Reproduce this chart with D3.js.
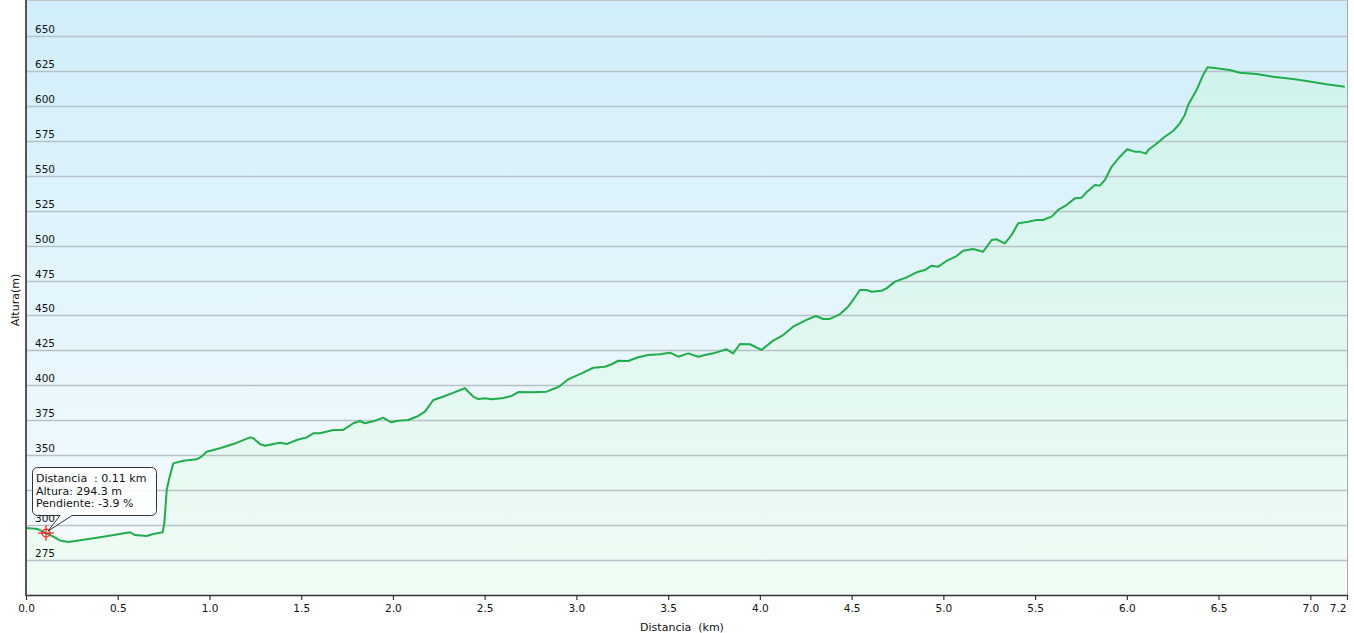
<!DOCTYPE html>
<html>
<head>
<meta charset="utf-8">
<script src="https://cdn.jsdelivr.net/npm/d3@7"></script>
<style>
  html, body { margin: 0; padding: 0; background: #ffffff; }
  svg { display: block; }
  text { font-family: "DejaVu Sans", Verdana, sans-serif; fill: #111; }
</style>
</head>
<body>
<svg id="chart" width="1354" height="633"></svg>
<script>
// Distance along the track (km)
const distancia = [
  0.000, 0.065, 0.109, 0.149, 0.185, 0.231, 0.331, 0.421, 0.567, 0.594,
  0.658, 0.694, 0.745, 0.754, 0.767, 0.781, 0.803, 0.857, 0.930, 0.957,
  0.985, 1.057, 1.130, 1.221, 1.239, 1.275, 1.302, 1.348, 1.384, 1.421,
  1.475, 1.530, 1.566, 1.602, 1.675, 1.729, 1.784, 1.820, 1.847, 1.902,
  1.947, 1.989, 2.029, 2.083, 2.138, 2.174, 2.220, 2.265, 2.320, 2.392,
  2.438, 2.465, 2.501, 2.538, 2.592, 2.647, 2.683, 2.756, 2.838, 2.883,
  2.910, 2.955, 3.028, 3.092, 3.155, 3.192, 3.228, 3.282, 3.337, 3.391,
  3.455, 3.510, 3.555, 3.609, 3.664, 3.700, 3.746, 3.819, 3.854, 3.891,
  3.946, 4.009, 4.072, 4.127, 4.181, 4.254, 4.305, 4.345, 4.381, 4.436,
  4.481, 4.508, 4.545, 4.581, 4.609, 4.663, 4.690, 4.736, 4.799, 4.854,
  4.899, 4.936, 4.972, 5.017, 5.072, 5.108, 5.162, 5.217, 5.263, 5.290,
  5.335, 5.372, 5.408, 5.462, 5.508, 5.542, 5.590, 5.626, 5.671, 5.717,
  5.753, 5.780, 5.826, 5.853, 5.880, 5.917, 5.962, 6.002, 6.044, 6.071,
  6.104, 6.116, 6.153, 6.207, 6.252, 6.289, 6.316, 6.334, 6.380, 6.416,
  6.440, 6.489, 6.561, 6.616, 6.707, 6.797, 6.906, 6.979, 7.088, 7.188
];
// Elevation (m)
const altura = [
  297.9, 297.2, 294.3, 291.7, 289.0, 287.9, 289.9, 291.7, 294.9, 292.9,
  292.2, 293.6, 294.9, 301.3, 325.1, 333.5, 344.2, 346.1, 347.1, 349.0,
  352.5, 355.0, 358.0, 362.8, 362.1, 358.0, 356.8, 358.0, 359.0, 358.0,
  360.9, 362.8, 365.7, 365.7, 368.1, 368.1, 372.9, 374.5, 372.9, 374.7,
  376.9, 373.6, 374.7, 375.2, 378.1, 381.2, 389.5, 391.5, 394.3, 397.9,
  391.9, 390.2, 390.7, 390.0, 390.7, 392.4, 395.2, 395.0, 395.5, 397.9,
  399.5, 404.3, 408.6, 412.6, 413.3, 415.1, 417.6, 417.4, 420.1, 421.7,
  422.2, 423.4, 420.5, 422.9, 420.5, 421.7, 422.9, 425.8, 422.9, 429.6,
  429.4, 425.3, 432.0, 436.0, 442.0, 446.8, 449.6, 447.5, 447.5, 450.8,
  456.3, 461.1, 468.2, 468.2, 467.0, 467.7, 469.4, 474.2, 477.3, 480.9,
  482.5, 485.6, 484.9, 489.0, 492.5, 496.3, 497.6, 495.6, 504.0, 504.5,
  501.6, 507.6, 516.0, 517.1, 518.3, 518.3, 520.7, 525.5, 529.0, 533.8,
  534.3, 538.1, 543.4, 542.9, 546.9, 556.4, 563.6, 568.9, 567.2, 567.2,
  565.8, 568.4, 572.0, 577.9, 582.0, 587.5, 593.4, 600.6, 611.3, 622.1,
  627.6, 626.9, 625.6, 623.7, 622.8, 620.8, 619.2, 617.8, 615.4, 613.7
];
const xTickValues = [0, 0.5, 1.0, 1.5, 2.0, 2.5, 3.0, 3.5, 4.0, 4.5, 5.0, 5.5, 6.0, 6.5, 7.0, 7.2];
const yTickValues = [275, 300, 325, 350, 375, 400, 425, 450, 475, 500, 525, 550, 575, 600, 625, 650];
const tooltipLines = ["Distancia  : 0.11 km", "Altura: 294.3 m", "Pendiente: -3.9 %"];
const tooltipPoint = { km: 0.109, m: 294.3 };

const data = distancia.map((d, i) => ({ km: d, m: altura[i] }));

const pLeft = 26, pRight = 1347, pTop = 1, pBottom = 595;
const svg = d3.select("#chart");
const x = d3.scaleLinear().domain([0, 7.2]).range([pLeft, pRight]);
const y = d3.scaleLinear().domain([250, 675]).range([pBottom, pTop]);

const defs = svg.append("defs");
const bg = defs.append("linearGradient").attr("id", "bg").attr("x1", 0).attr("y1", 0).attr("x2", 0).attr("y2", 1);
bg.append("stop").attr("offset", "0%").attr("stop-color", "#d0eefa");
bg.append("stop").attr("offset", "100%").attr("stop-color", "#f7fcff");
const fg = defs.append("linearGradient").attr("id", "fg").attr("gradientUnits", "userSpaceOnUse")
  .attr("x1", 0).attr("y1", pTop).attr("x2", 0).attr("y2", pBottom);
fg.append("stop").attr("offset", "0%").attr("stop-color", "#cdf1ec");
fg.append("stop").attr("offset", "100%").attr("stop-color", "#effcf3");

// plot background
svg.append("rect").attr("x", pLeft).attr("y", pTop).attr("width", pRight - pLeft).attr("height", pBottom - pTop)
  .attr("fill", "url(#bg)");

// area under profile
const area = d3.area().x(d => x(d.km)).y0(y(250)).y1(d => y(d.m));
svg.append("path").datum(data).attr("d", area).attr("fill", "url(#fg)");

// gridlines
svg.append("g").selectAll("line").data(yTickValues).join("line")
  .attr("x1", pLeft).attr("x2", pRight)
  .attr("y1", d => Math.round(y(d)) + 0.5).attr("y2", d => Math.round(y(d)) + 0.5)
  .attr("stroke", "#b7c2c7").attr("stroke-width", 1.3);

// y tick labels inside plot
svg.append("g").selectAll("text").data(yTickValues).join("text")
  .attr("x", 35).attr("y", d => Math.round(y(d)) - 3)
  .attr("font-size", "10.5px").text(d => d);

// top & right borders
svg.append("line").attr("x1", pLeft).attr("x2", pRight).attr("y1", 0.5).attr("y2", 0.5).attr("stroke", "#c8c8c8");
svg.append("line").attr("x1", pRight + 0.5).attr("x2", pRight + 0.5).attr("y1", 0).attr("y2", pBottom).attr("stroke", "#a8a8a8");

// profile line
const line = d3.line().x(d => x(d.km)).y(d => y(d.m));
svg.append("path").datum(data).attr("d", line).attr("fill", "none")
  .attr("stroke", "#1fae4b").attr("stroke-width", 2).attr("stroke-linejoin", "round");

// x axis
const xAxis = d3.axisBottom(x).tickValues(xTickValues).tickFormat(d3.format(".1f")).tickSize(5).tickSizeOuter(0);
const gx = svg.append("g").attr("transform", `translate(0,${pBottom})`).call(xAxis);
gx.select(".domain").attr("stroke", "#333").attr("stroke-width", 1.5);
gx.selectAll(".tick line").attr("stroke", "#333").attr("stroke-width", 1.2);
gx.selectAll(".tick text").attr("font-size", "10.5px").attr("font-family", "DejaVu Sans, Verdana, sans-serif")
  .attr("fill", "#111").attr("dy", "0.9em");
// last label (7.2) sits left of its tick so it stays inside the frame
gx.selectAll(".tick text").filter(d => d === 7.2).attr("text-anchor", "end").attr("x", -1);

// y axis line
svg.append("line").attr("x1", pLeft).attr("x2", pLeft).attr("y1", 0).attr("y2", pBottom + 1)
  .attr("stroke", "#555").attr("stroke-width", 2);

// axis titles
svg.append("text").attr("x", 682).attr("y", 631).attr("text-anchor", "middle").attr("font-size", "11px")
  .attr("xml:space", "preserve").style("white-space", "pre").text("Distancia  (km)");
svg.append("text").attr("transform", "translate(19,300) rotate(-90)").attr("text-anchor", "middle")
  .attr("font-size", "11px").text("Altura(m)");

// tooltip marker
const px = x(tooltipPoint.km), py = y(tooltipPoint.m);
const mk = svg.append("g").attr("stroke", "#ff2020").attr("fill", "none");
mk.append("circle").attr("cx", px).attr("cy", py).attr("r", 4).attr("stroke-width", 1.3);
mk.append("line").attr("x1", px - 8).attr("x2", px + 8).attr("y1", py).attr("y2", py).attr("stroke-width", 1.2);
mk.append("line").attr("x1", px).attr("x2", px).attr("y1", py - 8).attr("y2", py + 8).attr("stroke-width", 1.2);

// tooltip box with pointer (slightly translucent, as in the reference)
const bx = 32.5, by = 467.5, bw = 124, bh = 48, r = 5;
const tipPath = d3.path();
tipPath.moveTo(bx + r, by);
tipPath.lineTo(bx + bw - r, by);
tipPath.arcTo(bx + bw, by, bx + bw, by + r, r);
tipPath.lineTo(bx + bw, by + bh - r);
tipPath.arcTo(bx + bw, by + bh, bx + bw - r, by + bh, r);
tipPath.lineTo(72, by + bh);
tipPath.lineTo(px + 2, py - 2);
tipPath.lineTo(60, by + bh);
tipPath.lineTo(bx + r, by + bh);
tipPath.arcTo(bx, by + bh, bx, by + bh - r, r);
tipPath.lineTo(bx, by + r);
tipPath.arcTo(bx, by, bx + r, by, r);
tipPath.closePath();
svg.append("path").attr("d", tipPath.toString()).attr("fill", "#ffffff").attr("fill-opacity", 0.88)
  .attr("stroke", "#333").attr("stroke-width", 1);
svg.append("g").selectAll("text").data(tooltipLines).join("text")
  .attr("x", 36).attr("y", (d, i) => 482 + i * 12.5).attr("font-size", "11px")
  .attr("xml:space", "preserve").style("white-space", "pre").text(d => d);
</script>
</body>
</html>
